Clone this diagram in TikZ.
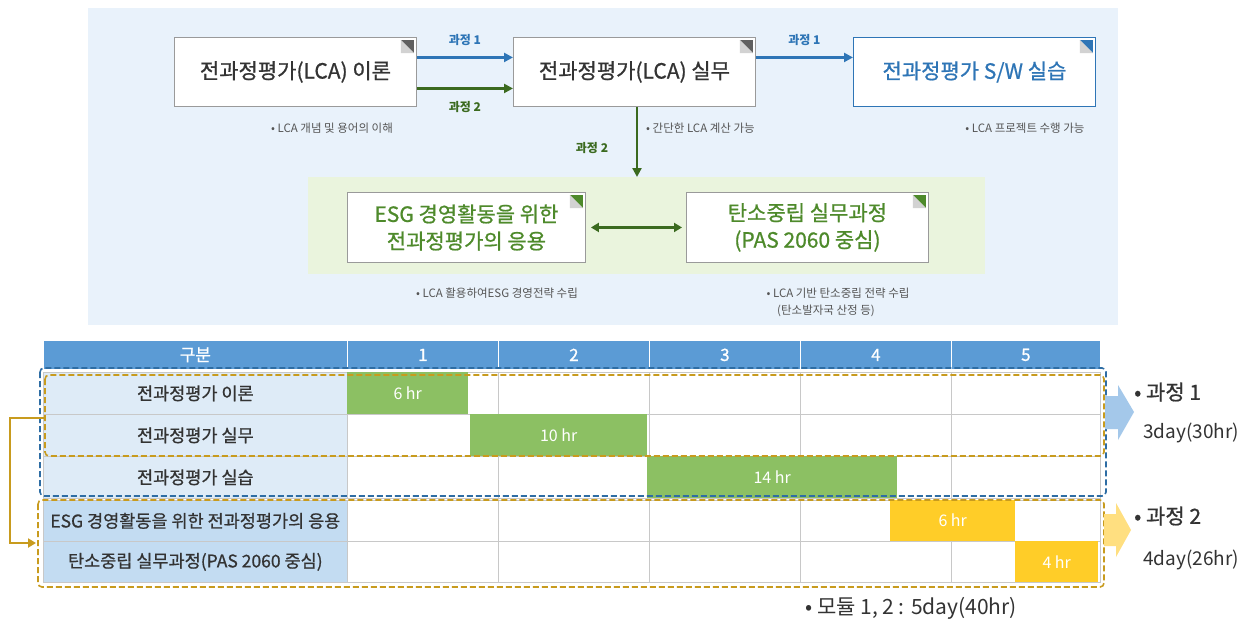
\documentclass[tikz,border=0pt]{standalone}
\usepackage{fontspec}
\setmainfont{Noto Sans CJK KR}
\newfontfamily\midfont[FakeBold=0.8]{Noto Sans CJK KR}
\usetikzlibrary{arrows.meta,calc}
\definecolor{bgblue}{HTML}{E9F2FB}
\definecolor{bggreen}{HTML}{EAF4DD}
\definecolor{boxb}{HTML}{9A9A9A}
\definecolor{titlec}{HTML}{333333}
\definecolor{bluec}{HTML}{2E75B6}
\definecolor{greent}{HTML}{4E8A2B}
\definecolor{greena}{HTML}{3B6A1F}
\definecolor{descc}{HTML}{555555}
\definecolor{headc}{HTML}{5B9BD5}
\definecolor{labc}{HTML}{DEEBF7}
\definecolor{labd}{HTML}{C3DCF2}
\definecolor{gridc}{HTML}{C8C8C8}
\definecolor{barg}{HTML}{8CC063}
\definecolor{bary}{HTML}{FFCD28}
\definecolor{goldc}{HTML}{C89B1E}
\definecolor{dashb}{HTML}{2E6DA4}
\definecolor{arrb}{HTML}{A4C8EA}
\definecolor{arry}{HTML}{FFDF80}
\tikzset{
  tbox/.style={draw=boxb, fill=white, line width=0.9pt, minimum width=242pt, minimum height=69pt, inner sep=0pt, anchor=north west, align=center, font=\midfont\fontsize{21}{27}\selectfont, text=titlec},
  desc/.style={font=\fontsize{11.5}{15}\selectfont, text=descc, inner sep=0pt},
  plab/.style={font=\bfseries\fontsize{12}{14}\selectfont, inner sep=0pt},
  barrow/.style={-{Triangle[length=9pt,width=9pt]}, line width=2.8pt},
  cell/.style={draw=gridc, line width=0.7pt, fill=white, anchor=north west, inner sep=0pt, font=\midfont\fontsize{17.5}{19}\selectfont, text=titlec},
  bar/.style={anchor=north west, inner sep=0pt, text=white, font=\fontsize{16}{18}\selectfont},
  hcell/.style={draw=white, line width=0.8pt, fill=headc, anchor=north west, inner sep=0pt, minimum height=29pt, text=white, font=\midfont\fontsize{17}{19}\selectfont},
  rtext/.style={anchor=west, inner sep=0pt, text=titlec},
  dframe/.style={dashed, dash pattern=on 6pt off 3pt, line width=1.6pt, rounded corners=4pt}
}
\newcommand{\mycorner}[3]{%
  \fill[#2] ($(#1.north east)+(-16,3)$) -- ($(#1.north east)+(-3,3)$) -- ($(#1.north east)+(-3,16)$) -- cycle;
  \fill[#3] ($(#1.north east)+(-16,3)$) -- ($(#1.north east)+(-16,16)$) -- ($(#1.north east)+(-3,16)$) -- cycle;}
\begin{document}
\begin{tikzpicture}[x=1pt,y=-1pt]
\useasboundingbox (0,0) rectangle (1250,627);
\fill[white] (0,0) rectangle (1250,627);
% panels
\fill[bgblue] (88,8) rectangle (1118,325);
\fill[bggreen] (308,177) rectangle (985,274);
% top boxes
\node[tbox] (A) at (174,37) {전과정평가(LCA) 이론};
\node[tbox] (B) at (513,37) {전과정평가(LCA) 실무};
\node[tbox, draw=bluec, text=bluec] (C) at (853,37) {전과정평가 S/W 실습};
\mycorner{A}{gray!75!black}{gray!35}
\mycorner{B}{gray!75!black}{gray!35}
\mycorner{C}{bluec}{gray!35}
% arrows
\draw[barrow, bluec] ([yshift=14.5pt]A.east) -- ([yshift=14.5pt]B.west) node[midway, above=10pt, plab, text=bluec] {과정 1};
\draw[barrow, greena] ([yshift=-16.5pt]A.east) -- ([yshift=-16.5pt]B.west) node[midway, below=12pt, plab, text=greena] {과정 2};
\draw[barrow, bluec] ([yshift=14.5pt]B.east) -- ([yshift=14.5pt]C.west) node[midway, above=10pt, plab, text=bluec] {과정 1};
\coordinate (gtop) at (637,177);
\draw[barrow, greena] (B.south -| gtop) -- (gtop);
\node[plab, text=greena] (p2b) at (592,148) {과정 2};
% descriptions
\node[desc] (dA) at (332,128) {• LCA 개념 및 용어의 이해};
\node[desc, anchor=west] (dB) at (646,128) {• 간단한 LCA 계산 가능};
\node[desc] (dC) at (1025,128) {• LCA 프로젝트 수행 가능};
% green boxes
\node[tbox, minimum width=238pt, minimum height=70pt, text=greent] (D) at (347,192) {ESG 경영활동을 위한\\전과정평가의 응용};
\node[tbox, minimum width=242pt, minimum height=70pt, text=greent] (E) at (686,192) {탄소중립 실무과정\\(PAS 2060 중심)};
\mycorner{D}{greent}{gray!35}
\mycorner{E}{greent}{gray!35}
\draw[{Triangle[length=8pt,width=9pt]}-{Triangle[length=8pt,width=9pt]}, line width=2.8pt, greena] ([xshift=5pt]D.east) -- ([xshift=-4pt]E.west);
\node[desc] (dD) at (497,293) {• LCA 활용하여ESG 경영전략 수립};
\node[desc] (dE) at (838,293) {• LCA 기반 탄소중립 전략 수립};
\node[desc] (dE2) at (826,311) {(탄소발자국 산정 등)};
% table header
\node[hcell, minimum width=304pt] (h0) at (43,340) {구분};
\node[hcell, minimum width=151pt] (h1) at (347,340) {1};
\node[hcell, minimum width=151pt] (h2) at (498,340) {2};
\node[hcell, minimum width=151pt] (h3) at (649,340) {3};
\node[hcell, minimum width=151pt] (h4) at (800,340) {4};
\node[hcell, minimum width=149pt] (h5) at (951,340) {5};
% rows
\foreach \r/\y/\h/\lc/\t in {1/372/42/labc/전과정평가 이론, 2/414/42/labc/전과정평가 실무, 3/456/42/labc/전과정평가 실습, 4/500/41/labd/ESG 경영활동을 위한 전과정평가의 응용, 5/541/41/labd/탄소중립 실무과정(PAS 2060 중심)}{
  \node[cell, fill=\lc, minimum width=304pt, minimum height=\h pt] (r\r c0) at (43,\y) {\t};
  \foreach \c/\x/\w in {1/347/151, 2/498/151, 3/649/151, 4/800/151, 5/951/149}{
    \node[cell, minimum width=\w pt, minimum height=\h pt] (r\r c\c) at (\x,\y) {};
  }
}
% bars
\node[bar, fill=barg, minimum width=121pt, minimum height=42pt] (b1) at (347,372) {6 hr};
\node[bar, fill=barg, minimum width=177pt, minimum height=42pt] (b2) at (470,414) {10 hr};
\node[bar, fill=barg, minimum width=250pt, minimum height=42pt] (b3) at (647,456) {14 hr};
\node[bar, fill=bary, minimum width=125pt, minimum height=41pt] (b4) at (890,500) {6 hr};
\node[bar, fill=bary, minimum width=83pt, minimum height=41pt] (b5) at (1015,541) {4 hr};
% dashed frames
\draw[dashb, dframe] (40,368) rectangle (1106,496);
\draw[goldc, dframe] (45,375) rectangle (1104,456);
\draw[goldc, dframe] (38,500) rectangle (1104,587);
% gold connector
\coordinate (g1) at (44,418);
\coordinate (g2) at (36,543);
\draw[goldc, line width=2.4pt, -{Triangle[length=8pt,width=9pt]}] (g1) -- ++(-34,0) |- (g2);
% block arrows
\fill[arrb] (1105,396) -- (1118,396) -- (1118,385) -- (1134,412) -- (1118,440) -- (1118,429) -- (1105,429) -- cycle;
\fill[arry] (1104,514) -- (1116,514) -- (1116,503) -- (1131,530) -- (1116,557) -- (1116,546) -- (1104,546) -- cycle;
\node[rtext, font=\midfont\fontsize{21}{23}\selectfont] (k1) at (1134,392) {• 과정 1};
\node[rtext, font=\fontsize{19}{21}\selectfont] (k1b) at (1143,433) {3day(30hr)};
\node[rtext, font=\midfont\fontsize{21}{23}\selectfont] (k2) at (1134,516) {• 과정 2};
\node[rtext, font=\fontsize{19}{21}\selectfont] (k2b) at (1143,560) {4day(26hr)};
\node[rtext, font=\fontsize{21}{23}\selectfont] (mod) at (805,608) {• 모듈 1, 2 : 5day(40hr)};
\end{tikzpicture}
\end{document}
